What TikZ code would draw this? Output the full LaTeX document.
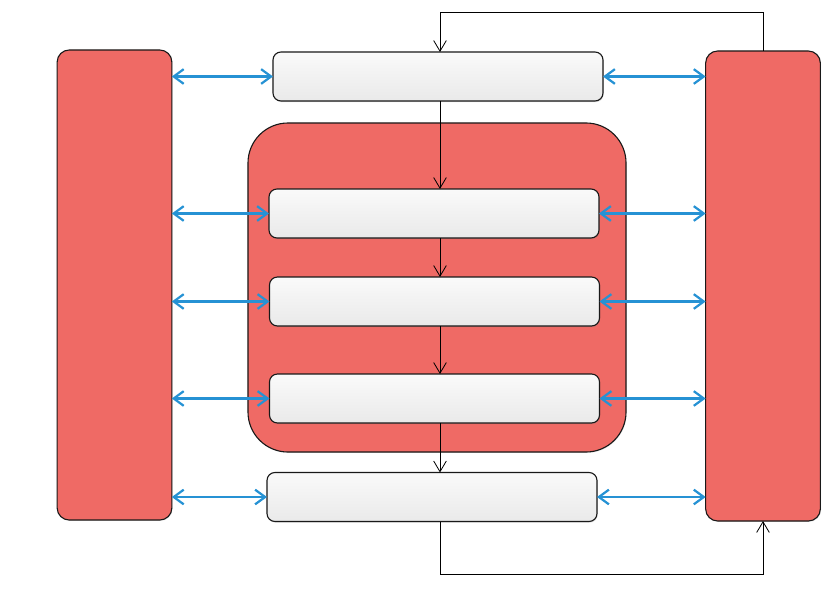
\documentclass[tikz,border=0pt]{standalone}
\usepackage{tikz}
\usetikzlibrary{arrows.meta,shadows,calc}

\definecolor{rotfeld}{RGB}{239,106,101}
\definecolor{blaupfeil}{RGB}{38,146,212}

\begin{document}
\begin{tikzpicture}[x=0.03cm, y=-0.03cm,
        saeule/.style={draw=black!90, line width=0.95pt, fill=rotfeld, rounded corners=0.36cm,
            inner sep=0pt, outer sep=0pt, minimum width=3.44cm, minimum height=14.1cm,
            drop shadow={opacity=0.2, shadow xshift=0.6pt, shadow yshift=-0.8pt}},
        stufe/.style={draw=black!90, line width=0.95pt, rounded corners=0.24cm,
            top color=gray!4, bottom color=gray!17, inner sep=0pt, outer sep=0pt,
            minimum width=9.9cm, minimum height=1.47cm,
            drop shadow={opacity=0.25, shadow xshift=0.6pt, shadow yshift=-1pt}},
        fluss/.style={line width=0.7pt, -{Straight Barb[length=3.2mm, width=3.8mm, line width=0.7pt]}},
        tausch/.style={blaupfeil, line width=1.9pt,
            {Straight Barb[length=3mm, width=4.4mm]}-{Straight Barb[length=3mm, width=4.4mm]}}]

        \useasboundingbox (0,0) rectangle (837,589);

        % Spalten links und rechts
        \node[saeule] (links) at (114.5, 285) {};
        \node[saeule] (rechts) at (763, 286) {};

        % grosser Block in der Mitte
        \node[saeule, rounded corners=1.2cm, minimum width=11.34cm, minimum height=9.87cm] (kern) at (437, 287.5) {};

        % Stufen von oben nach unten
        \node[stufe] (s1) at (438, 76.5) {};
        \node[stufe] (s2) at (434, 213.5) {};
        \node[stufe] (s3) at (434.5, 301.5) {};
        \node[stufe] (s4) at (434.5, 398.5) {};
        \node[stufe] (s5) at (432, 497) {};

        % Hilfspunkte fuer die Rueckfuehrung
        \coordinate (oben) at (440, 12);
        \coordinate (unten) at (440, 574);

        % senkrechter Fluss
        \draw[fluss] (rechts.north) |- (oben) -- (s1.north -| oben);
        \draw[fluss] (s1.south -| oben) -- (s2.north -| oben);
        \draw[fluss] (s2.south -| oben) -- (s3.north -| oben);
        \draw[fluss] (s3.south -| oben) -- (s4.north -| oben);
        \draw[fluss] (s4.south -| oben) -- (s5.north -| oben);
        \draw[fluss] (s5.south -| unten) -- (unten) -| (rechts.south);

        % Austausch mit beiden Spalten
        \foreach \s in {s1,s2,s3,s4,s5} {
            \draw[tausch] (links.east |- \s.west) -- (\s.west);
            \draw[tausch] (\s.east) -- (rechts.west |- \s.east);
        }
\end{tikzpicture}
\end{document}
